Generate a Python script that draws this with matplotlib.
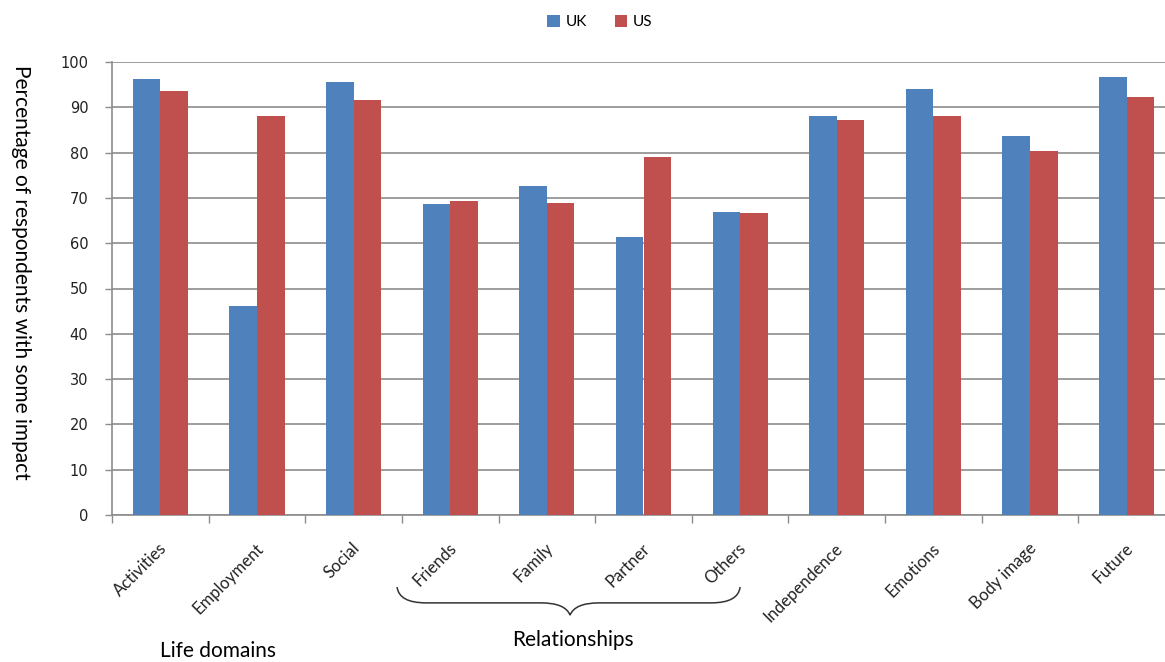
import numpy as np
import matplotlib.pyplot as plt
from matplotlib.path import Path
from matplotlib.patches import PathPatch
from matplotlib.transforms import blended_transform_factory, ScaledTranslation

categories = ["Activities", "Employment", "Social", "Friends", "Family", "Partner",
              "Others", "Independence", "Emotions", "Body image", "Future"]
uk = [96.3, 46.1, 95.5, 68.6, 72.7, 61.3, 66.9, 88.1, 94.1, 83.7, 96.7]
us = [93.5, 88.1, 91.7, 69.4, 68.9, 79.0, 66.6, 87.2, 88.1, 80.3, 92.2]
yticks = list(range(0, 101, 10))

blue = "#4F81BD"
red = "#C0504D"
grey = "#8C8C8C"
label_font = ["Lato", "DejaVu Sans"]

fig = plt.figure(figsize=(11.65, 6.62), dpi=100)
fig.patch.set_facecolor("white")
# axes run slightly past the right edge of the figure
ax = fig.add_axes([112 / 1165, 147 / 662, 1063 / 1165, 453 / 662])

x = np.arange(len(categories))
w = 1 / 3.5
ax.bar(x - w / 2, uk, w, color=blue, label="UK", zorder=3, linewidth=0)
ax.bar(x + w / 2, us, w, color=red, label="US", zorder=3, linewidth=0)

ax.set_xlim(-0.5, len(categories) - 0.5)
ax.set_ylim(0, 100)
ax.set_yticks(yticks)
ax.set_yticklabels([str(v) for v in yticks], fontsize=10.5, family="DejaVu Sans", color="#222222")
ax.yaxis.grid(True, color=grey, linewidth=1.2, zorder=0)
ax.tick_params(axis="y", length=5, width=1, color=grey, pad=12)

# category boundaries carry the tick marks, labels are drawn separately
ax.set_xticks(np.arange(-0.5, len(categories) + 0.5, 1))
ax.set_xticklabels([])
ax.tick_params(axis="x", length=6, width=1, color=grey)

for s in ["top", "right"]:
    ax.spines[s].set_visible(False)
for s in ["left", "bottom"]:
    ax.spines[s].set_color(grey)
    ax.spines[s].set_linewidth(1.2)

off = ScaledTranslation(-2 / 100, -25 / 100, fig.dpi_scale_trans)
trans = blended_transform_factory(ax.transData, ax.transAxes)
for i, name in enumerate(categories):
    ax.text(i, 0, name, transform=trans + off, rotation=45, rotation_mode="anchor",
            ha="right", va="top", fontsize=12, family=label_font, color="#222222")

fig.text(21 / 1165, 1 - 272 / 662, "Percentage of respondents with some impact",
         rotation=-90, ha="center", va="center", fontsize=15, family=label_font)

# brace under the relationship categories
bl, bm, br = 2.45, 4.24, 6.0
ytop, ymid, ytip = -0.159, -0.194, -0.221
verts = [(bl, ytop), (bl + 0.02, ymid), (bl + 0.3, ymid),
         (bm - 0.3, ymid),
         (bm - 0.3, ymid), (bm - 0.05, ymid), (bm, ytip),
         (bm + 0.05, ymid), (bm + 0.3, ymid),
         (br - 0.3, ymid),
         (br - 0.02, ymid), (br, ytop)]
codes = [Path.MOVETO, Path.CURVE3, Path.CURVE3,
         Path.LINETO,
         Path.MOVETO, Path.CURVE3, Path.CURVE3,
         Path.CURVE3, Path.CURVE3,
         Path.LINETO,
         Path.CURVE3, Path.CURVE3]
brace = PathPatch(Path(verts, codes), transform=trans, facecolor="none",
                  edgecolor="#333333", linewidth=1.1, clip_on=False)
ax.add_patch(brace)

ax.text(4.27, -0.276, "Relationships", transform=trans, ha="center", va="center",
        fontsize=15, family=label_font)
ax.text(0.6, -0.300, "Life domains", transform=trans, ha="center", va="center",
        fontsize=15, family=label_font)

fig.legend(loc="center", bbox_to_anchor=(600 / 1165, 1 - 22 / 662), ncol=2, frameon=False,
           prop={"family": label_font, "size": 11}, handlelength=0.8,
           handleheight=0.8, handletextpad=0.4, columnspacing=1.8)

fig.savefig("out.png", dpi=100, facecolor="white")
